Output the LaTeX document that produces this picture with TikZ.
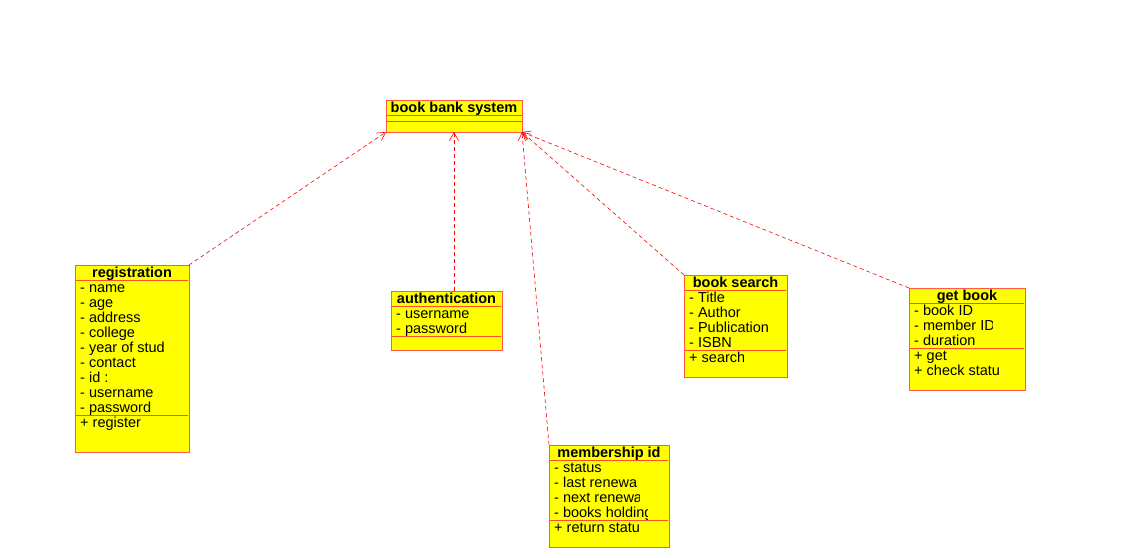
\documentclass[tikz,border=0pt]{standalone}
\usepackage{fontspec}
\setmainfont{Liberation Sans}
\usetikzlibrary{calc,arrows.meta}

\definecolor{boxfill}{RGB}{255,255,0}
\definecolor{boxline}{RGB}{255,90,70}
\definecolor{sepline}{RGB}{255,80,30}
\definecolor{deparrow}{RGB}{255,0,0}

\tikzset{
  classrect/.style={draw=boxline, fill=boxfill, line width=1pt, inner sep=0pt, outer sep=0pt},
  classtitle/.style={font=\fontsize{14.5}{15}\selectfont\bfseries, inner sep=0pt, anchor=base},
  member/.style={font=\fontsize{14.5}{15}\selectfont, inner sep=0pt, anchor=base west},
  sep/.style={draw=sepline, line width=1pt},
  depend/.style={draw=deparrow, dashed, dash pattern=on 4pt off 3pt, line width=0.6pt,
    -{Straight Barb[length=8pt, width=9pt, line width=0.6pt]}},
}

% one compartment row: text cut off at a given width from the box's left side
% #1 compartment's top-left point, #2 row number, #3 text, #4 visible width
\newcommand{\memberrow}[4]{%
  \begin{scope}
    \clip ($#1+(1,#2*15-18)$) rectangle ($#1+(#4,#2*15+3)$);
    \node[member] at ($#1+(5,#2*15-2.8)$) {#3};
  \end{scope}
}

% #1 name, #2 north-west corner, #3 width, #4 height, #5 title,
% #6 attributes, #7 operations, each as text/visible width (rows are 15pt)
\newcommand{\umlclass}[7]{%
  \node[classrect, minimum width=#3, minimum height=#4, anchor=north west] (#1) at #2 {};
  \begin{scope}
    \clip ($(#1.north west)+(1,1)$) rectangle ($(#1.south east)+(-1,-1)$);
    \node[classtitle] at ($(#1.north)+(0,12)$) {#5};
    \coordinate (#1-a) at ($(#1.north west)+(0,15)$);
    \draw[sep] (#1-a) -- (#1-a -| #1.east);
    \def\nattr{0}
    \foreach \t/\w [count=\i] in {#6} {
      \memberrow{(#1-a)}{\i}{\t}{\w}
      \xdef\nattr{\i}
    }
    \coordinate (#1-o) at ($(#1-a)+(0,\nattr*15)$);
    \draw[sep] (#1-o) -- (#1-o -| #1.east);
    \if\relax\detokenize{#7}\relax\else
      \foreach \t/\w [count=\i] in {#7} {
        \memberrow{(#1-o)}{\i}{\t}{\w}
      }
    \fi
  \end{scope}
  \draw[draw=boxline, line width=1pt] (#1.north west) rectangle (#1.south east);
}

\begin{document}
\begin{tikzpicture}[x=1pt,y=-1pt]
  \useasboundingbox (0,0) rectangle (1122,557);

  % system class
  \node[classrect, minimum width=136, minimum height=32, anchor=north west] (bbs) at (386,100) {};
  \node[classtitle] at ($(bbs.north)+(0,12)$) {book bank system};
  \draw[sep] ($(bbs.north west)+(0,15)$) -- ($(bbs.north east)+(0,15)$);
  \draw[sep] ($(bbs.north west)+(0,21)$) -- ($(bbs.north east)+(0,21)$);

  \umlclass{reg}{(75,265)}{114}{187}{registration}
    {- name/200,- age/200,- address/200,- college/200,- year of stud/200,
     - contact/200,- id :/200,- username/77,- password/77}
    {+ register/65}
  \umlclass{auth}{(391,291)}{111}{59}{authentication}
    {- username/77,- password/76}{}
  \umlclass{mem}{(549,445)}{120}{102}{membership id}
    {- status/200,- last renewal/88,- next renewal/90,- books holding/98}
    {+ return statu/200}
  \umlclass{srch}{(684,275)}{103}{102}{book search}
    {- Title/200,- Author/200,- Publication/93,- ISBN/200}
    {+ search/59}
  \umlclass{get}{(909,288)}{116}{102}{get book}
    {- book ID/200,- member ID/83,- duration/200}
    {+ get/200,+ check statu/200}

  % dependencies on the system class
  \draw[depend] (reg.north east) -- (bbs.south west);
  \draw[depend] (auth.north -| bbs.south) -- (bbs.south);
  \draw[depend] (mem.north west) -- (bbs.south east);
  \draw[depend] (srch.north west) -- (bbs.south east);
  \draw[depend] (get.north west) -- (bbs.south east);
\end{tikzpicture}
\end{document}
